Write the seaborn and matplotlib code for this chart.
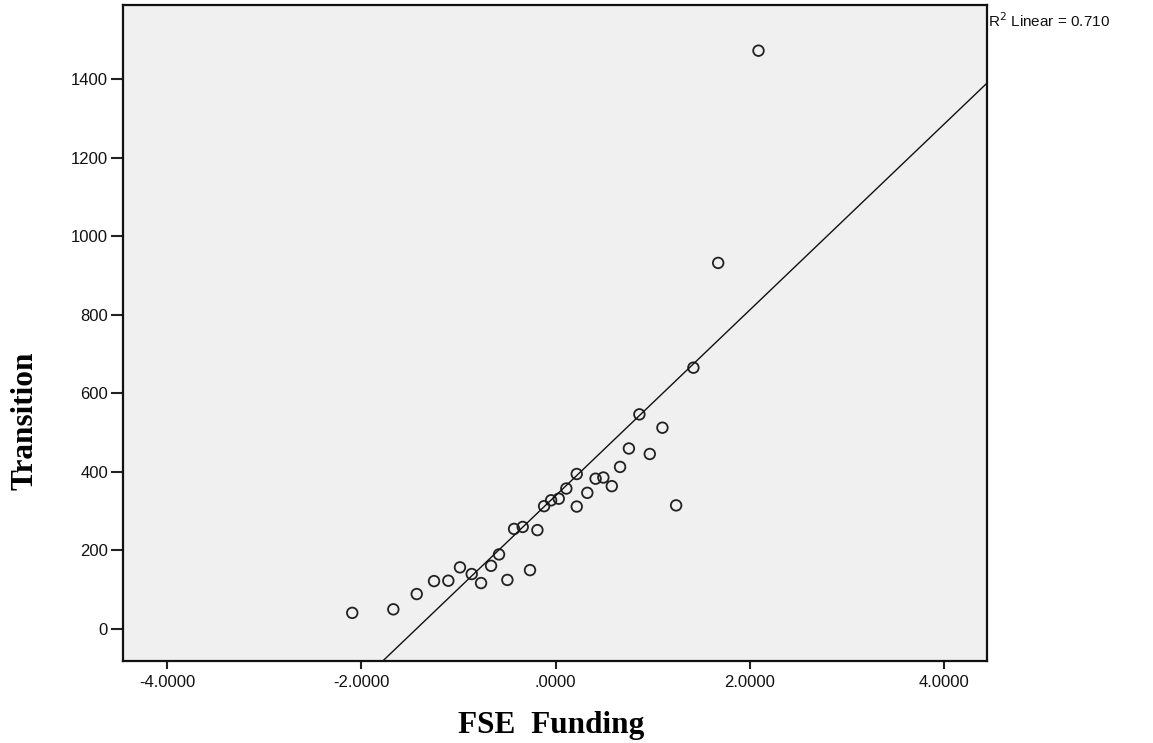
import numpy as np
import pandas as pd
import matplotlib
matplotlib.use("Agg")
import matplotlib.pyplot as plt
import seaborn as sns

# Data
fse_funding = [-2.094, -1.671, -1.430, -1.252, -1.105, -0.985, -0.864, -0.768, -0.665,
               -0.583, -0.497, -0.428, -0.339, -0.264, -0.188, -0.119, -0.047, 0.032,
               0.110, 0.217, 0.217, 0.326, 0.411, 0.491, 0.578, 0.663, 0.754, 0.862,
               0.969, 1.099, 1.240, 1.418, 1.673, 2.088]
transition = [40, 49, 88, 121, 122, 156, 139, 116, 160,
              189, 124, 254, 259, 149, 251, 312, 327, 331,
              357, 394, 311, 346, 382, 385, 363, 412, 459, 546,
              445, 512, 314, 665, 932, 1473]
x_ticks = [-4, -2, 0, 2, 4]
x_tick_labels = ["-4.0000", "-2.0000", ".0000", "2.0000", "4.0000"]
y_ticks = [0, 200, 400, 600, 800, 1000, 1200, 1400]
r2_label = "R$^2$ Linear = 0.710"

df = pd.DataFrame({"FSE Funding": fse_funding, "Transition": transition})

sns.set_style("white")
plt.rcParams["font.family"] = ["Liberation Sans", "DejaVu Sans"]
plt.rcParams["text.color"] = "black"
plt.rcParams["xtick.color"] = "black"
plt.rcParams["ytick.color"] = "black"

fig = plt.figure(figsize=(11.53, 7.43), dpi=100)
ax = fig.add_axes([0.107, 0.1104, 0.749, 0.8829])
ax.set_facecolor("#f0f0f0")
ax.set_xlim(-4.45, 4.44)
ax.set_ylim(-82.6, 1589.5)

sns.regplot(data=df, x="FSE Funding", y="Transition", ax=ax, scatter=False,
            ci=None, truncate=False, line_kws=dict(color="#111111", lw=1.0))
sns.scatterplot(data=df, x="FSE Funding", y="Transition", ax=ax, s=58,
                facecolors="none", edgecolor="#222222", linewidth=1.3, marker="o")
ax.set_xlim(-4.45, 4.44)
ax.set_ylim(-82.6, 1589.5)

ax.set_xticks(x_ticks)
ax.set_xticklabels(x_tick_labels)
ax.set_yticks(y_ticks)
ax.tick_params(axis="x", direction="out", length=6, width=1.5, color="#222222",
               labelsize=12, pad=4, bottom=True, labelcolor="#111111")
ax.tick_params(axis="y", direction="out", length=9, width=1.5, color="#222222",
               labelsize=12, pad=2, left=True, labelcolor="#111111")
for sp in ax.spines.values():
    sp.set_visible(True)
    sp.set_color("#111111")
    sp.set_linewidth(1.6)

ax.set_xlabel("")
ax.set_ylabel("")
fig.text(551 / 1153, 1 - 725 / 743, "FSE  Funding", ha="center", va="center",
         fontsize=22.5, fontweight="bold", family=["Liberation Serif"], color="black")
fig.text(25 / 1153, 1 - 421 / 743, "Transition", ha="center", va="center",
         rotation=90, fontsize=22.5, fontweight="bold", family=["Liberation Serif"],
         color="black")
fig.text(988 / 1153, 1 - 21 / 743, r2_label, ha="left", va="center", fontsize=11,
         color="#111111")

fig.savefig("out.png", dpi=100, facecolor="white")
